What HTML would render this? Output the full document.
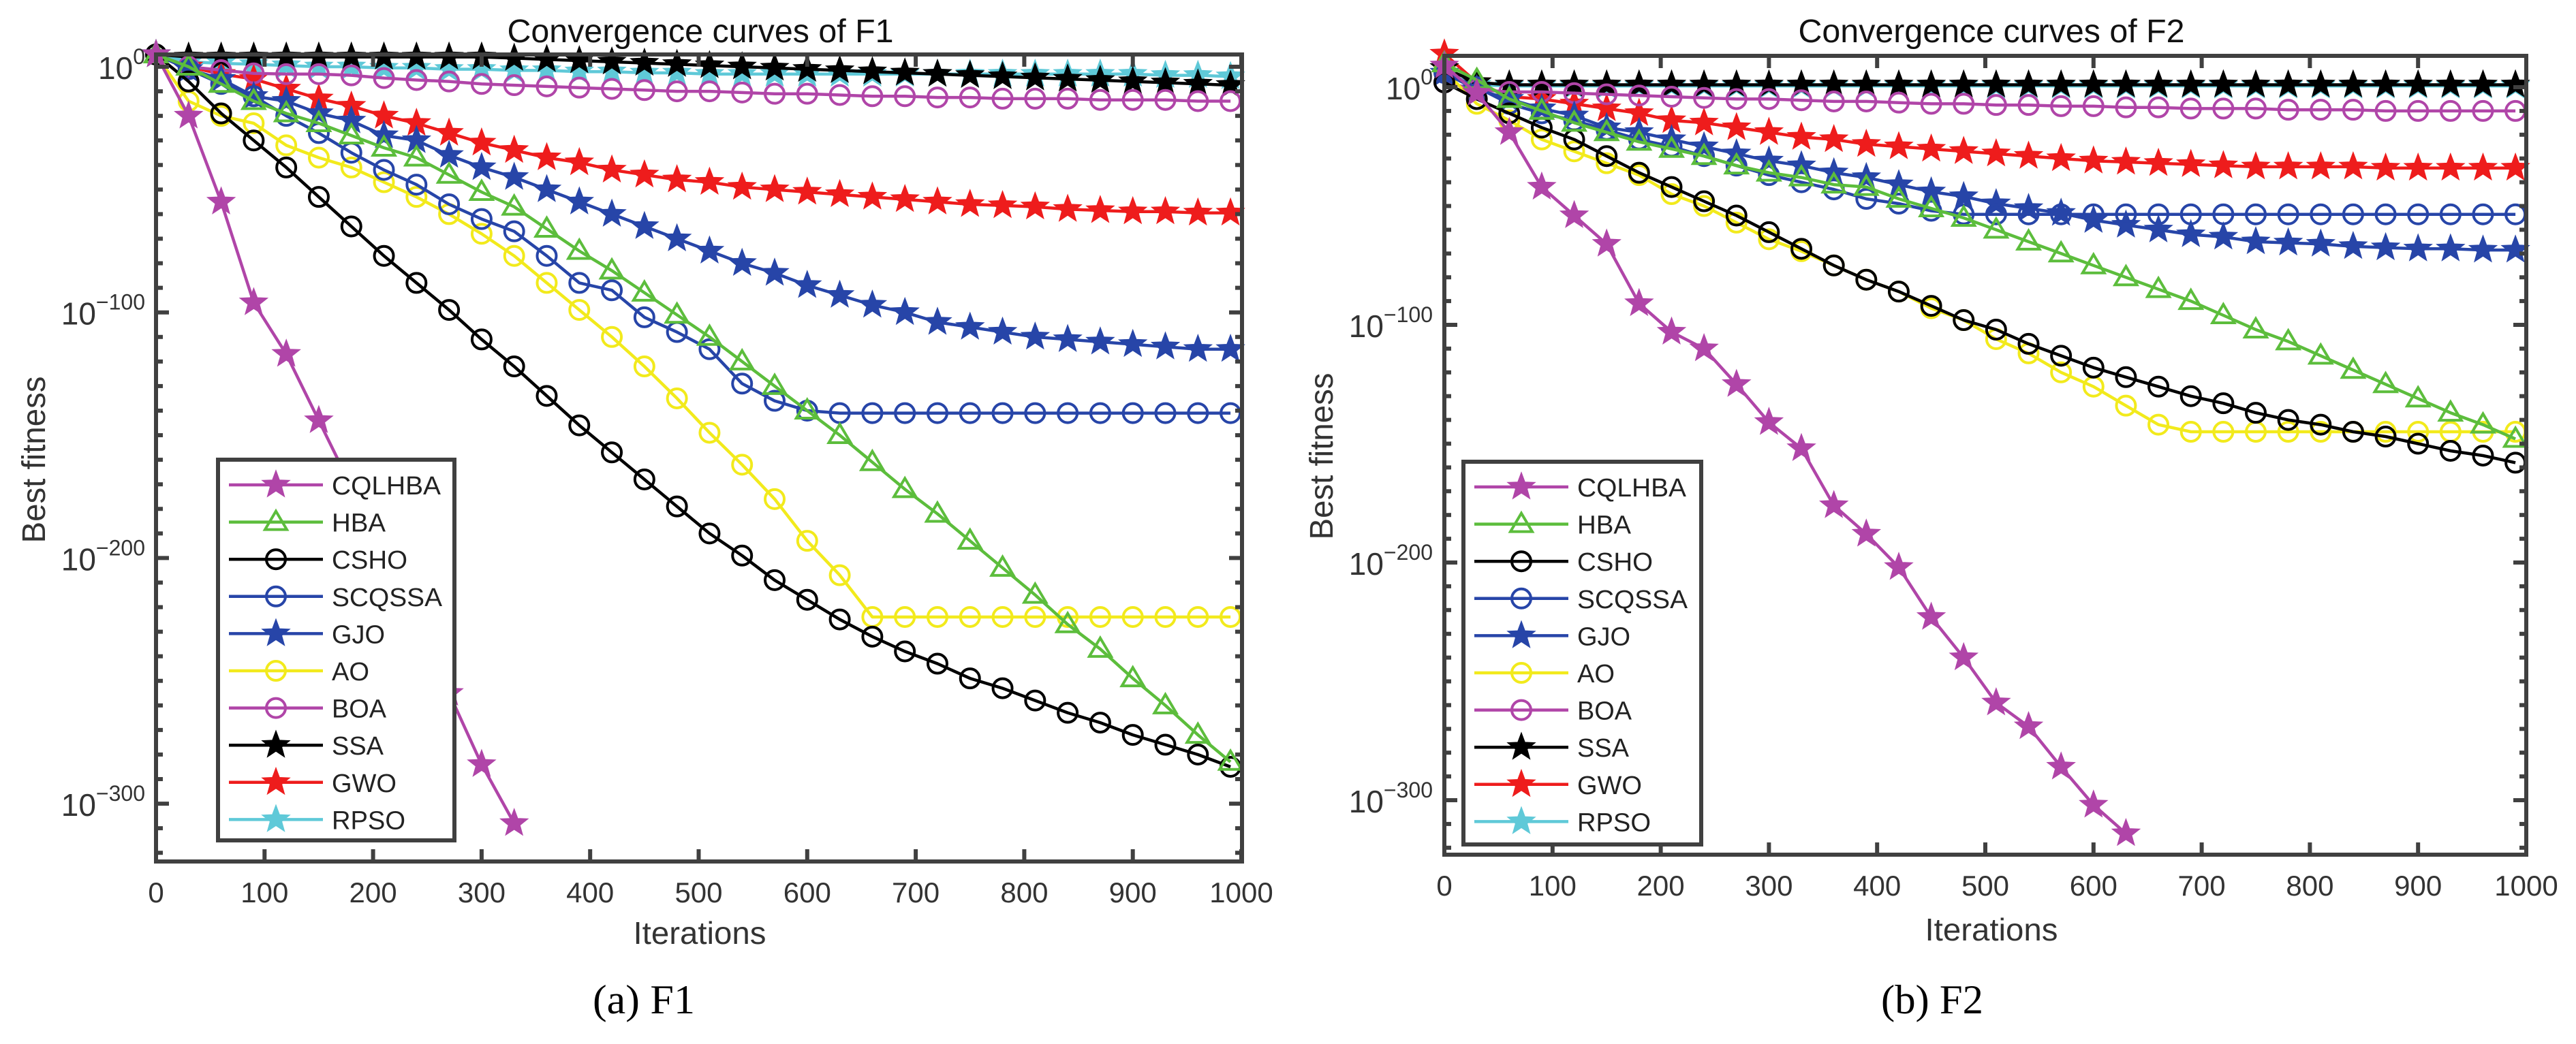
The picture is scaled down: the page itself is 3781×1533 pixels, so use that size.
<!DOCTYPE html>
<html><head><meta charset="utf-8">
<style>
html,body{margin:0;padding:0;background:#fff;}
svg{display:block;font-family:"Liberation Sans",Arial,sans-serif;}
</style></head>
<body>
<svg id="fig" width="3781" height="1533" viewBox="0 0 3781 1533" xmlns="http://www.w3.org/2000/svg"></svg>
<script>
const iters = [0,30,60,90,120,150,180,210,240,270,300,330,360,390,420,450,480,510,540,570,600,630,660,690,720,750,780,810,840,870,900,930,960,990];
const seriesNames = ["CQLHBA","HBA","CSHO","SCQSSA","GJO","AO","BOA","SSA","GWO","RPSO"];
const legendWidths = [160,79,111,162,78,55,80,76,95,108];
const xTicks = [0,100,200,300,400,500,600,700,800,900,1000];
const yTickExps = [0,-100,-200,-300];
const yTickLabels = ["0","\u2212100","\u2212200","\u2212300"];

// F1 log10(best fitness) at marker iterations
const f1_CQLHBA = [5,-20,-55,-96,-117,-144,-171,-198,-226,-255,-284,-308];
const f1_HBA = [5,0,-7,-14,-19,-23,-28,-33,-37,-44,-51,-57,-66,-75,-83,-92,-101,-110,-120,-130,-140,-150,-161,-172,-182,-193,-204,-215,-227,-237,-249,-260,-272,-283];
const f1_CSHO = [5,-6,-19,-30,-41,-53,-65,-77,-88,-99,-111,-122,-134,-146,-157,-168,-179,-190,-199,-209,-217,-225,-232,-238,-243,-249,-253,-258,-263,-267,-272,-276,-280,-285];
const f1_SCQSSA = [5,-1,-7,-12,-20,-27,-35,-42,-48,-56,-62,-67,-77,-88,-91,-102,-108,-115,-129,-136,-140,-141,-141,-141,-141,-141,-141,-141,-141,-141,-141,-141,-141,-141];
const f1_GJO = [5,-1,-5,-12,-14,-19,-22,-28,-30,-36,-41,-45,-50,-55,-60,-65,-70,-75,-80,-84,-89,-93,-97,-100,-104,-106,-108,-110,-111,-112,-113,-114,-115,-115];
const f1_AO = [5,-14,-20,-23,-32,-37,-41,-47,-53,-60,-68,-77,-88,-99,-110,-122,-135,-149,-162,-176,-193,-207,-224,-224,-224,-224,-224,-224,-224,-224,-224,-224,-224,-224];
const f1_BOA = [5,0,-1.4,-2.7,-3,-3,-3.5,-4.6,-5.4,-6,-7,-7.5,-8,-8.5,-9,-9.5,-10,-10,-10.5,-11,-11,-11.5,-12,-12,-12.5,-12.5,-13,-13,-13,-13.5,-13.5,-13.5,-14,-14];
const f1_SSA = [5,4,4,4,4,4,4,4,4,4,4,3.5,3,2.5,2,1.5,1,0.5,0,-0.5,-1,-1.5,-2,-2.5,-3,-3.5,-4,-4.5,-5,-5.5,-6,-6.5,-7,-7.5];
const f1_GWO = [5,0,-3,-5,-9,-13,-16,-20,-23,-27,-31,-34,-37,-39,-42,-44,-46,-47,-49,-50,-51,-52,-53,-54,-55,-56,-56.5,-57,-58,-58.5,-59,-59,-59.5,-59.5];
const f1_RPSO = [5,2,1.4,1,0.5,0,0,-0.5,-0.5,-1,-1,-1.5,-1.5,-2,-2,-2.5,-2.5,-3,-3,-3,-3,-3,-3,-3,-3,-3,-3,-3,-3,-3,-3,-3.5,-3.5,-4];

// F2
const f2_CQLHBA = [9,-2.5,-19,-42,-54,-66,-91,-103,-110,-125,-141,-152,-176,-188,-202,-223,-240,-259,-269,-286,-302,-314];
const f2_HBA = [10,3,-5,-10,-15,-19,-23,-26,-29,-33,-36,-38,-41,-42,-47,-51,-55,-60,-65,-70,-75,-80,-85,-90,-96,-102,-107,-113,-119,-125,-131,-137,-142,-148];
const f2_CSHO = [2,-5,-11,-17,-22,-29,-36,-42,-48,-54,-61,-68,-75,-81,-86,-92,-98,-102,-108,-113,-118,-122,-126,-130,-133,-137,-140,-142,-145,-147,-150,-153,-155,-158];
const f2_SCQSSA = [6,0,-7,-11,-14,-18,-22,-25,-29,-33,-37,-40,-43,-47,-49,-52,-53.5,-53.5,-53.5,-53.5,-53.5,-53.5,-53.5,-53.5,-53.5,-53.5,-53.5,-53.5,-53.5,-53.5,-53.5,-53.5,-53.5,-53.5];
const f2_GJO = [6,-1,-5,-9,-12,-17,-19,-22,-25,-28,-31,-33,-36,-38,-41,-44,-46,-49,-51,-53,-56,-58,-60,-62,-63,-65,-65.5,-66,-67,-67.5,-68,-68,-68.5,-68.5];
const f2_AO = [7,-7,-14,-22,-27,-32,-37,-45,-50,-57,-64,-69,-75,-81,-86,-93,-98,-106,-112,-120,-126,-134,-142,-145,-145,-145,-145,-145,-145,-145,-145,-145,-145,-145];
const f2_BOA = [2,-1,-2,-2,-2.5,-3,-3.5,-4,-4.5,-5,-5,-5.5,-6,-6,-6.5,-7,-7,-7.5,-7.5,-8,-8,-8.5,-8.5,-9,-9,-9,-9.5,-9.5,-9.5,-10,-10,-10,-10,-10];
const f2_SSA = [8,2,1,1,1,1,1,1,1,1,1,1,1,1,1,1,1,1,1,1,1,1,1,1,1,1,1,1,1,1,1,1,1,1];
const f2_GWO = [14,2,-4,-5,-7,-9,-11,-14,-15,-17,-19,-21,-22,-24,-25,-26,-27,-28,-29,-30,-31,-31.5,-32,-32.5,-33,-33.5,-33.5,-33.5,-33.5,-34,-34,-34,-34,-34];
const f2_RPSO = [6,1,0.5,0.5,0.5,0.5,0.5,0.5,0.5,0.5,0.5,0.5,0.5,0.5,0.5,0.5,0.5,0.5,0.5,0.5,0.5,0.5,0.5,0.5,0.5,0.5,0.5,0.5,0.5,0.5,0.5,0.5,0.5,0.5];

const styles = {
  CQLHBA:{c:"#b045a8",m:"star"}, HBA:{c:"#5cbd3c",m:"tri"}, CSHO:{c:"#000000",m:"circ"},
  SCQSSA:{c:"#2745a8",m:"circ"}, GJO:{c:"#2745a8",m:"star"}, AO:{c:"#f2ea1c",m:"circ"},
  BOA:{c:"#b045a8",m:"circ"}, SSA:{c:"#000000",m:"star"}, GWO:{c:"#ee1c1c",m:"star"},
  RPSO:{c:"#5fc9d8",m:"star"}
};
const NS="http://www.w3.org/2000/svg";
const svg=document.getElementById("fig");
function mk(tag,attrs,parent){const e=document.createElementNS(NS,tag);for(const k in attrs)e.setAttribute(k,attrs[k]);(parent||svg).appendChild(e);return e;}
function starPts(cx,cy,R){const r=R*0.42;let p=[];for(let i=0;i<10;i++){const a=-Math.PI/2+i*Math.PI/5;const rr=i%2?r:R;p.push((cx+rr*Math.cos(a)).toFixed(1)+","+(cy+rr*Math.sin(a)).toFixed(1));}return p.join(" ");}
function marker(g,type,x,y,c){
  let e;
  if(type==="star"){e=mk("polygon",{points:starPts(x,y,20),fill:c,stroke:c,"stroke-width":2},g);}
  else if(type==="tri"){e=mk("polygon",{points:`${x},${y-16} ${x+16},${y+11} ${x-16},${y+11}`,fill:"none",stroke:c,"stroke-width":4},g);}
  else {e=mk("circle",{cx:x,cy:y,r:14,fill:"none",stroke:c,"stroke-width":4},g);}
  
  
}

function drawPanel(cfg){
  const P=mk("g",{});
  
  
  const X=v=>cfg.x0+(v/1000)*(cfg.x1-cfg.x0);
  const Y=e=>cfg.y0-e*cfg.dpd;
  const L=cfg.left,R=cfg.right,T=cfg.top,B=cfg.bottom;
  const clipId="clip"+cfg.id;
  const cp=mk("clipPath",{id:clipId},P);mk("rect",{x:L-25,y:T-30,width:R-L+55,height:B-T+30},cp);
  const plot=mk("g",{"clip-path":`url(#${clipId})`},P);
  
  
  for(let s=seriesNames.length-1;s>=0;s--){
    const nm=seriesNames[s],st=styles[nm],vals=cfg.data[nm];
    const g=mk("g",{},plot);
    
    
    const pts=vals.map((v,i)=>X(iters[i]).toFixed(1)+","+Y(v).toFixed(1)).join(" ");
    const pl=mk("polyline",{points:pts,fill:"none",stroke:st.c,"stroke-width":4.5,"stroke-linejoin":"round"},g);
    
    
    vals.forEach((v,i)=>marker(g,st.m,X(iters[i]),Y(v),st.c));
  }
  const ax=mk("rect",{x:L,y:T,width:R-L,height:B-T,fill:"none",stroke:"#404040","stroke-width":6},P);
  
  
  xTicks.forEach(t=>{
    const x=X(t);
    mk("line",{x1:x,y1:B,x2:x,y2:B-18,stroke:"#404040","stroke-width":6},P);
    mk("line",{x1:x,y1:T,x2:x,y2:T+18,stroke:"#404040","stroke-width":6},P);
    const tx=mk("text",{x:x,y:B+60,"font-size":42,fill:"#333","text-anchor":"middle"},P);
    tx.textContent=t;
    
    
  });
  for(let e=0;e>=-320;e-=10){
    const y=Y(e);if(y<T+2||y>B-2)continue;
    const len=(e%100===0)?19:10;
    mk("line",{x1:L,y1:y,x2:L+len,y2:y,stroke:"#404040","stroke-width":6},P);
    mk("line",{x1:R,y1:y,x2:R-len,y2:y,stroke:"#404040","stroke-width":6},P);
  }
  yTickExps.forEach((e,i)=>{
    const y=Y(e);
    const t=mk("text",{x:cfg.ylabR,y:y+18,"font-size":46,fill:"#333","text-anchor":"end"},P);
    
    
    const a=mk("tspan",{},t);a.textContent="10";
    const b=mk("tspan",{dy:-22,"font-size":32},t);b.textContent=yTickLabels[i];
  });
  const title=mk("text",{x:cfg.titleX,y:62,"font-size":48,fill:"#111","text-anchor":"middle",textLength:567,lengthAdjust:"spacingAndGlyphs"},P);
  title.textContent=cfg.title;
  
  
  const xl=mk("text",{x:cfg.xlabX,y:cfg.xlabY,"font-size":46,fill:"#333","text-anchor":"middle",textLength:195,lengthAdjust:"spacingAndGlyphs"},P);
  xl.textContent="Iterations";
  
  
  const yl=mk("text",{x:0,y:0,"font-size":48,fill:"#333","text-anchor":"middle",textLength:245,lengthAdjust:"spacingAndGlyphs",transform:`translate(${cfg.ylabX},${cfg.ylabY}) rotate(-90)`},P);
  yl.textContent="Best fitness";
  
  
  const cap=mk("text",{x:cfg.capX,y:1488,"font-size":60,fill:"#000","text-anchor":"middle","font-family":"Liberation Serif, serif",textLength:150,lengthAdjust:"spacingAndGlyphs"},P);
  cap.textContent=cfg.caption;
  
  
  const lg=mk("g",{},P);
  
  
  const lb=cfg.leg;
  mk("rect",{x:lb.x,y:lb.y,width:lb.w,height:lb.h,fill:"#fff",stroke:"#404040","stroke-width":6},lg);
  seriesNames.forEach((nm,i)=>{
    const st=styles[nm];const y=lb.y+37+i*54.6;
    const en=mk("g",{},lg);
    
    
    mk("line",{x1:lb.x+16,y1:y,x2:lb.x+154,y2:y,stroke:st.c,"stroke-width":4.5},en);
    marker(en,st.m,lb.x+85,y,st.c);
    const t=mk("text",{x:lb.x+167,y:y+14,"font-size":38,fill:"#222",textLength:legendWidths[i],lengthAdjust:"spacingAndGlyphs"},en);t.textContent=nm;
  });
}

drawPanel({id:1,name:"panel-f1",x0:229,x1:1822,y0:98,dpd:3.607,left:229,right:1823,top:80,bottom:1265,
  ylabR:213,titleX:1028,title:"Convergence curves of F1",xlabX:1027,xlabY:1386,ylabX:66,ylabY:675,capX:945,caption:"(a) F1",
  leg:{x:320,y:675,w:347,h:559},
  data:{CQLHBA:f1_CQLHBA,HBA:f1_HBA,CSHO:f1_CSHO,SCQSSA:f1_SCQSSA,GJO:f1_GJO,AO:f1_AO,BOA:f1_BOA,SSA:f1_SSA,GWO:f1_GWO,RPSO:f1_RPSO}});
drawPanel({id:2,name:"panel-f2",x0:2120,x1:3708,y0:128,dpd:3.49,left:2120,right:3708,top:82,bottom:1255,
  ylabR:2103,titleX:2923,title:"Convergence curves of F2",xlabX:2923,xlabY:1381,ylabX:1956,ylabY:670,capX:2836,caption:"(b) F2",
  leg:{x:2148,y:678,w:349,h:562},
  data:{CQLHBA:f2_CQLHBA,HBA:f2_HBA,CSHO:f2_CSHO,SCQSSA:f2_SCQSSA,GJO:f2_GJO,AO:f2_AO,BOA:f2_BOA,SSA:f2_SSA,GWO:f2_GWO,RPSO:f2_RPSO}});
</script>
</body></html>
